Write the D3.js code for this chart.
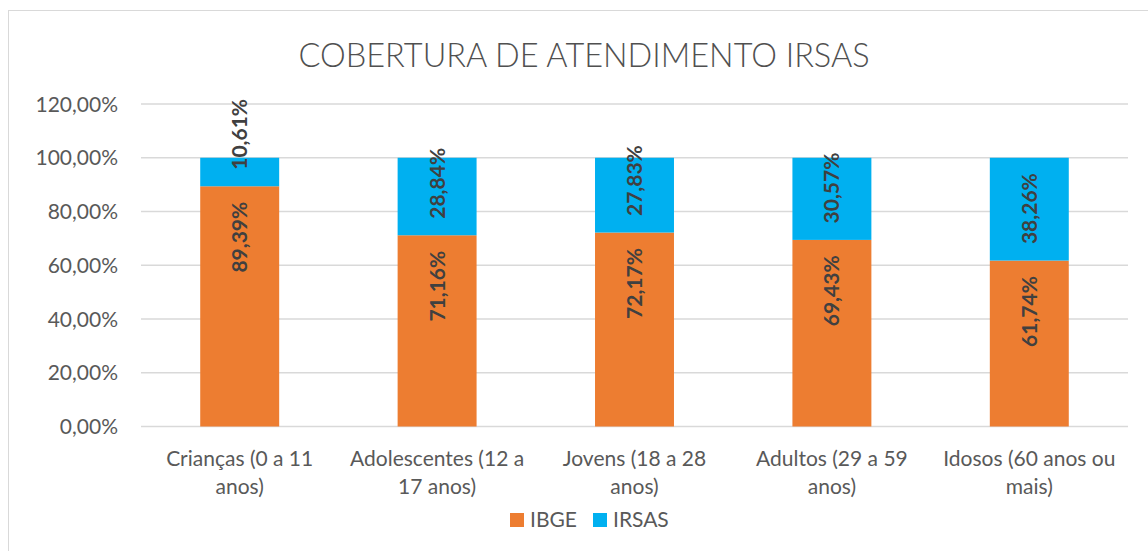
<!DOCTYPE html>
<html>
<head>
<meta charset="utf-8">
<script src="https://cdn.jsdelivr.net/npm/d3@7"></script>
<style>
  html, body { margin: 0; padding: 0; background: #ffffff; }
  svg { display: block; }
</style>
</head>
<body>
<svg id="chart" width="1148" height="551"></svg>
<script>
const titleText = "COBERTURA DE ATENDIMENTO IRSAS";
const categories = [
  ["Crianças (0 a 11", "anos)"],
  ["Adolescentes (12 a", "17 anos)"],
  ["Jovens (18 a 28", "anos)"],
  ["Adultos (29 a 59", "anos)"],
  ["Idosos (60 anos ou", "mais)"]
];
const seriesNames = ["IBGE", "IRSAS"];
const ibgeValues = [0.8939, 0.7116, 0.7217, 0.6943, 0.6174];
const irsasValues = [0.1061, 0.2884, 0.2783, 0.3057, 0.3826];
const yTicks = [0, 0.2, 0.4, 0.6, 0.8, 1.0, 1.2];
const colors = ["#ED7D31", "#00B0F0"];

const svg = d3.select("#chart");
const W = 1148, H = 551;
const plotLeft = 141, plotRight = 1128, plotTop = 104, plotBottom = 426.5;
const fontAxis = "Lato, 'Open Sans', sans-serif";

// outer chart border
svg.append("rect")
  .attr("x", 8.5).attr("y", 10.5)
  .attr("width", W + 20).attr("height", H + 20)
  .attr("fill", "#ffffff").attr("stroke", "#D9D9D9").attr("stroke-width", 1);

// title
svg.append("text")
  .attr("x", 584).attr("y", 67)
  .attr("text-anchor", "middle")
  .attr("font-family", fontAxis).attr("font-weight", 300)
  .attr("font-size", 32.5).attr("fill", "#505050")
  .text(titleText);

const idx = d3.range(categories.length);
const x = d3.scaleBand().domain(idx).range([plotLeft, plotRight]).paddingInner(0).paddingOuter(0);
const y = d3.scaleLinear().domain([0, 1.2]).range([plotBottom, plotTop]);
const fmt = v => d3.format(".2f")(v * 100).replace(".", ",") + "%";

// gridlines
svg.append("g").selectAll("line").data(yTicks).join("line")
  .attr("x1", plotLeft).attr("x2", plotRight)
  .attr("y1", d => y(d)).attr("y2", d => y(d))
  .attr("stroke", "#D9D9D9").attr("stroke-width", 1.3);

// y axis labels
const yAxis = d3.axisLeft(y).tickValues(yTicks).tickFormat(fmt).tickSize(0).tickPadding(0);
const gy = svg.append("g").attr("transform", `translate(${118},0)`).call(yAxis);
gy.select(".domain").remove();
gy.selectAll("text")
  .attr("font-family", fontAxis).attr("font-size", 21)
  .attr("fill", "#595959").attr("dy", "0.34em");

// stacked data
const rows = idx.map(i => ({ i, IBGE: ibgeValues[i], IRSAS: irsasValues[i] }));
const stack = d3.stack().keys(seriesNames)(rows);
const bw = x.bandwidth() * 0.4;

const groups = svg.append("g").selectAll("g").data(stack).join("g")
  .attr("fill", (d, k) => colors[k]);
groups.selectAll("rect").data(d => d).join("rect")
  .attr("x", d => x(d.data.i) + x.bandwidth() / 2 - bw / 2)
  .attr("width", bw)
  .attr("y", d => y(d[1]))
  .attr("height", d => y(d[0]) - y(d[1]));

// data labels
stack.forEach((s, k) => {
  svg.append("g").selectAll("text").data(s).join("text")
    .attr("transform", d => {
      const cx = x(d.data.i) + x.bandwidth() / 2;
      const cy = k === 0 ? y(d[1]) + 15.5 : y(d[0]) - 16.5;
      return `translate(${cx},${cy}) rotate(-90)`;
    })
    .attr("text-anchor", k === 0 ? "end" : "start")
    .attr("dy", "0.36em")
    .attr("font-family", fontAxis).attr("font-weight", 700)
    .attr("font-size", 21).attr("fill", "#404040")
    .text(d => fmt(d[1] - d[0]));
});

// x axis labels
const xl = svg.append("g").selectAll("text").data(idx).join("text")
  .attr("x", i => x(i) + x.bandwidth() / 2)
  .attr("y", 466)
  .attr("text-anchor", "middle")
  .attr("font-family", fontAxis).attr("font-size", 21).attr("fill", "#595959");
xl.selectAll("tspan").data(i => categories[i].map(t => ({ t, x: x(i) + x.bandwidth() / 2 }))).join("tspan")
  .attr("x", d => d.x)
  .attr("dy", (d, j) => j === 0 ? 0 : 28)
  .text(d => d.t);

// legend
const legendItems = [
  { name: seriesNames[0], color: colors[0], sx: 510, tx: 530 },
  { name: seriesNames[1], color: colors[1], sx: 593, tx: 613 }
];
const lg = svg.append("g");
lg.selectAll("rect").data(legendItems).join("rect")
  .attr("x", d => d.sx).attr("y", 513).attr("width", 14).attr("height", 14)
  .attr("fill", d => d.color);
lg.selectAll("text").data(legendItems).join("text")
  .attr("x", d => d.tx).attr("y", 527)
  .attr("font-family", fontAxis).attr("font-size", 21).attr("fill", "#595959")
  .text(d => d.name);
</script>
</body>
</html>
